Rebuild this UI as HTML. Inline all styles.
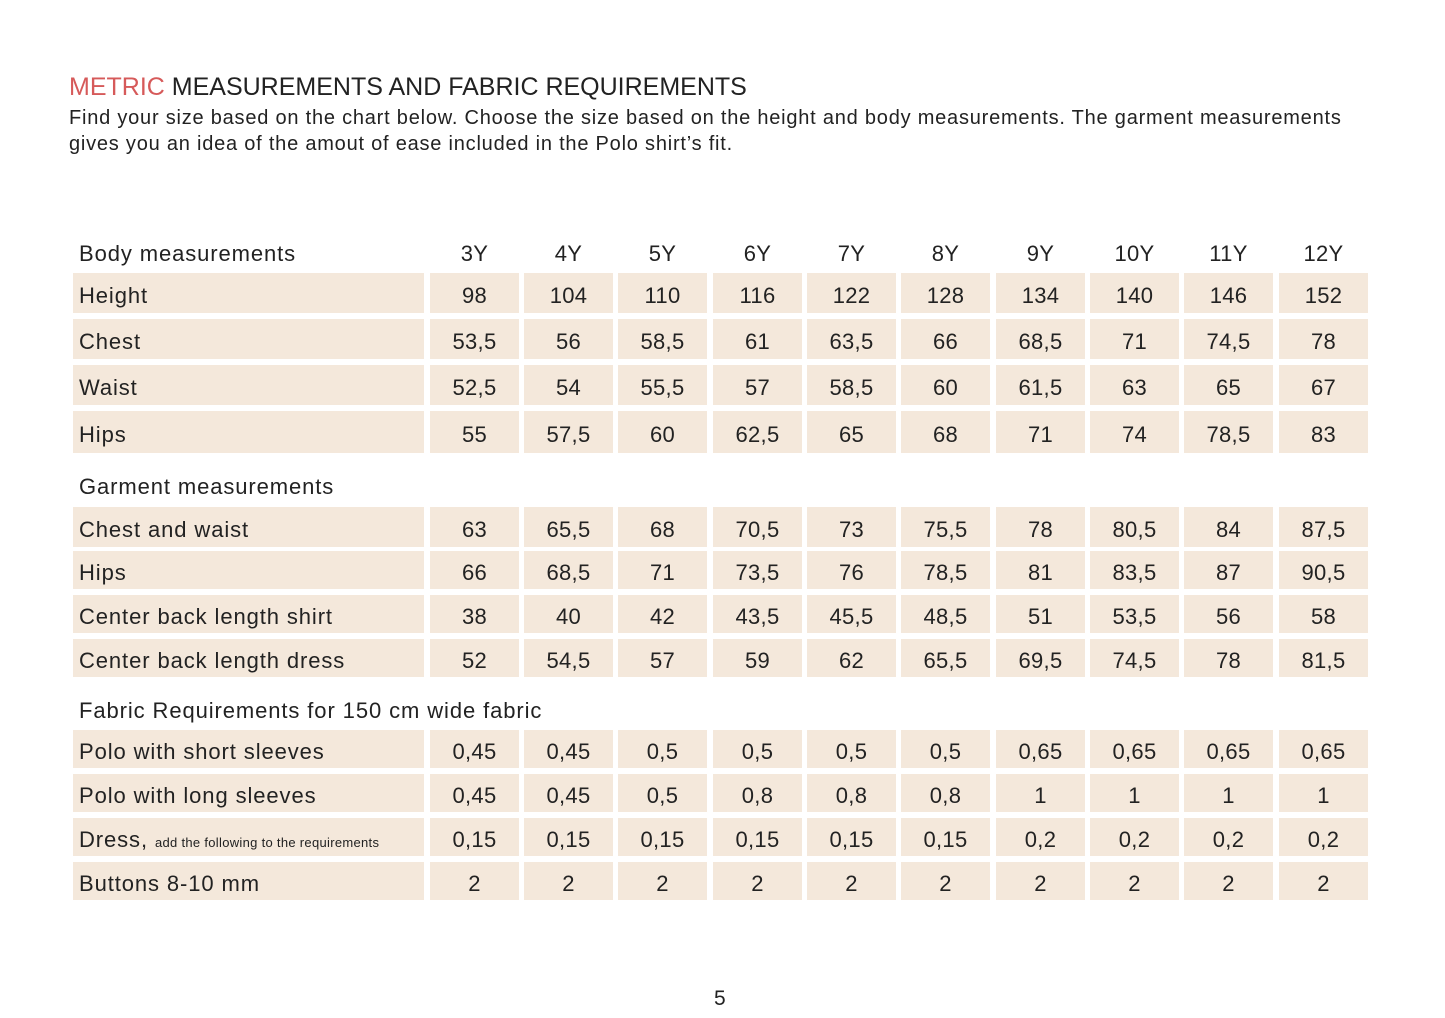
<!DOCTYPE html>
<html><head><meta charset="utf-8"><style>
body{margin:0;width:1445px;height:1018px;background:#fff;position:relative;font-family:"Liberation Sans",sans-serif;color:#222;overflow:hidden}
.a{position:absolute;white-space:nowrap}
.c{position:absolute;background:#f4e8db}
.t{position:absolute;font-size:22px;letter-spacing:0.9px;line-height:1;transform:translateY(-50%);white-space:nowrap}
.v{text-align:center;width:89px;letter-spacing:0.3px}
</style></head><body>
<div class="a" style="left:69px;top:73px;font-size:25px;">
<span style="color:#d65a5a">METRIC</span> MEASUREMENTS AND FABRIC REQUIREMENTS</div>
<div class="a" style="left:69px;top:105px;font-size:20px;letter-spacing:0.78px;line-height:26px">Find your size based on the chart below. Choose the size based on the height and body measurements. The garment measurements<br>gives you an idea of the amout of ease included in the Polo shirt’s fit.</div>
<div id="tb"></div>
<div class="a" style="left:714px;top:987px;font-size:21px">5</div>
<script>
const cx=[474,568,662,757,851,945,1040,1134,1228,1323];
const rows=[
["h",251,0,"Body measurements",["3Y","4Y","5Y","6Y","7Y","8Y","9Y","10Y","11Y","12Y"]],
["r",293,40,"Height",["98","104","110","116","122","128","134","140","146","152"]],
["r",339,40,"Chest",["53,5","56","58,5","61","63,5","66","68,5","71","74,5","78"]],
["r",385,40,"Waist",["52,5","54","55,5","57","58,5","60","61,5","63","65","67"]],
["r",432,42,"Hips",["55","57,5","60","62,5","65","68","71","74","78,5","83"]],
["h",484,0,"Garment measurements",[]],
["r",527,40,"Chest and waist",["63","65,5","68","70,5","73","75,5","78","80,5","84","87,5"]],
["r",570,38,"Hips",["66","68,5","71","73,5","76","78,5","81","83,5","87","90,5"]],
["r",614,38,"Center back length shirt",["38","40","42","43,5","45,5","48,5","51","53,5","56","58"]],
["r",658,38,"Center back length dress",["52","54,5","57","59","62","65,5","69,5","74,5","78","81,5"]],
["h",708,0,"Fabric Requirements for 150 cm wide fabric",[]],
["r",749,38,"Polo with short sleeves",["0,45","0,45","0,5","0,5","0,5","0,5","0,65","0,65","0,65","0,65"]],
["r",793,38,"Polo with long sleeves",["0,45","0,45","0,5","0,8","0,8","0,8","1","1","1","1"]],
["r",837,38,"Dress, <span style='font-size:13px;letter-spacing:0.3px'>add the following to the requirements</span>",["0,15","0,15","0,15","0,15","0,15","0,15","0,2","0,2","0,2","0,2"]],
["r",881,38,"Buttons 8-10 mm",["2","2","2","2","2","2","2","2","2","2"]]];
let h="";
for(const [k,y,hh,l,vs] of rows){
 if(k=="r"){h+=`<div class="c" style="left:73px;top:${y-hh/2}px;width:351px;height:${hh}px"></div>`;
  cx.forEach(c=>h+=`<div class="c" style="left:${c-44}px;top:${y-hh/2}px;width:89px;height:${hh}px"></div>`);}
 h+=`<div class="t" style="left:79px;top:${y+3}px">${l}</div>`;
 vs.forEach((v,i)=>h+=`<div class="t v" style="left:${cx[i]-44}px;top:${y+3}px">${v}</div>`);
}
document.getElementById("tb").innerHTML=h;
</script>
</body></html>
